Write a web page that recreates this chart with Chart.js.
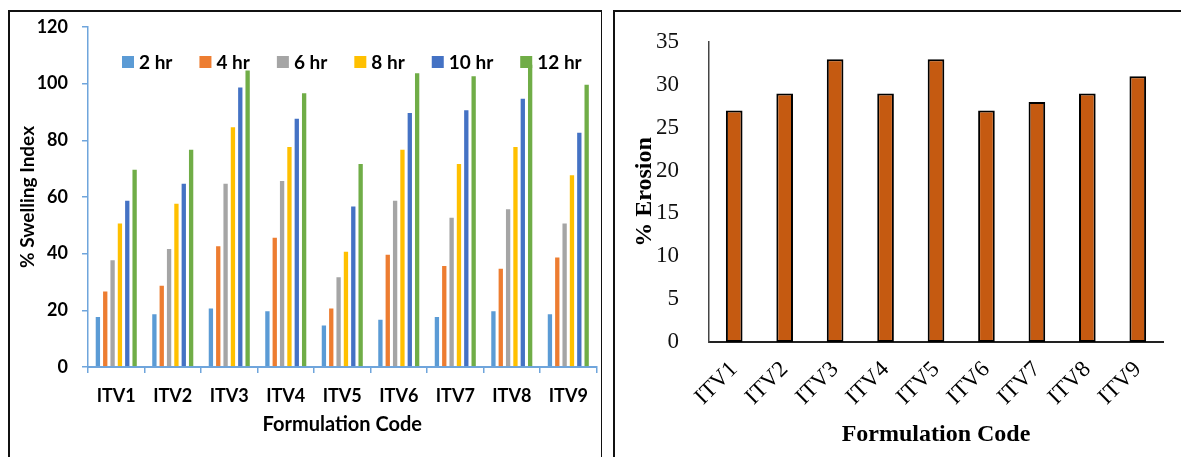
<!DOCTYPE html>
<html>
<head>
<meta charset="utf-8">
<title>Swelling index and erosion</title>
<script src="https://cdn.jsdelivr.net/npm/chart.js@4.4.1/dist/chart.umd.min.js"></script>
<style>
  html, body { margin: 0; padding: 0; background: #fff; }
  body { width: 1181px; height: 457px; position: relative; overflow: hidden; }
  .frame { position: absolute; border: 2px solid #111; box-sizing: border-box; }
  #frameA { left: 8px; top: 10px; width: 594px; height: 470px; border-right-width: 1.5px; }
  #frameB { left: 613px; top: 10px; width: 600px; height: 470px; }
  .wrap { position: absolute; top: 0; height: 457px; }
  #wrapA { left: 0; width: 600px; }
  #wrapB { left: 600px; width: 581px; }
</style>
</head>
<body>
<div class="frame" id="frameA"></div>
<div class="frame" id="frameB"></div>
<div class="wrap" id="wrapA"><canvas id="swellChart"></canvas></div>
<div class="wrap" id="wrapB"><canvas id="erosionChart"></canvas></div>

<script>
// formulations
const categories = ["ITV1", "ITV2", "ITV3", "ITV4", "ITV5", "ITV6", "ITV7", "ITV8", "ITV9"];

// swelling index (%) per sampling time
const timeLabels = ["2 hr", "4 hr", "6 hr", "8 hr", "10 hr", "12 hr"];
const swell2h  = [18, 19, 21, 20, 15, 17, 18, 20, 19];
const swell4h  = [27, 29, 43, 46, 21, 40, 36, 35, 39];
const swell6h  = [38, 42, 65, 66, 32, 59, 53, 56, 51];
const swell8h  = [51, 58, 85, 78, 41, 77, 72, 78, 68];
const swell10h = [59, 65, 99, 88, 57, 90, 91, 95, 83];
const swell12h = [70, 77, 105, 97, 72, 104, 103, 107, 100];

// erosion (%)
const erosion = [27, 29, 33, 29, 33, 27, 28, 29, 31];

// axis ticks
const swellTicks = [0, 20, 40, 60, 80, 100, 120];
const erosionTicks = [0, 5, 10, 15, 20, 25, 30, 35];

const seriesColors = ["#5B9BD5", "#ED7D31", "#A5A5A5", "#FFC000", "#4472C4", "#70AD47"];
const axisBlue = "#6FA5DC";
const sans = "Lato";
const serif = "'Liberation Serif', 'Times New Roman', serif";

// legend drawn inside the plot, on top of the bars
const legendInPlot = {
  id: "legendInPlot",
  afterDatasetsDraw(chart) {
    const ctx = chart.ctx;
    const area = chart.chartArea;
    let x = area.left + 34;
    const y = area.top + 35;
    ctx.save();
    ctx.font = "bold 19px " + sans;
    ctx.textBaseline = "middle";
    chart.data.datasets.forEach(ds => {
      ctx.fillStyle = ds.backgroundColor;
      ctx.fillRect(x, y - 6, 12, 12);
      ctx.fillStyle = "#000";
      ctx.fillText(ds.label, x + 17, y + 1);
      x += 17 + ctx.measureText(ds.label).width + 27;
    });
    ctx.restore();
  }
};

function drawCharts() {
  const swellSeries = [swell2h, swell4h, swell6h, swell8h, swell10h, swell12h];

  new Chart(document.getElementById("swellChart"), {
    type: "bar",
    data: {
      labels: categories,
      datasets: swellSeries.map((vals, i) => ({
        label: timeLabels[i],
        data: vals,
        backgroundColor: seriesColors[i],
        borderColor: "rgba(255,255,255,0.45)",
        borderWidth: 1,
        borderSkipped: "bottom",
        categoryPercentage: 0.78,
        barPercentage: 0.86
      }))
    },
    plugins: [legendInPlot],
    options: {
      responsive: true,
      maintainAspectRatio: false,
      animation: false,
      layout: { padding: { left: 0, right: 3, top: 27, bottom: 0 } },
      plugins: { legend: { display: false }, tooltip: { enabled: false } },
      scales: {
        x: {
          afterFit(s) { s.height = 90; },
          grid: { display: true, drawOnChartArea: false, tickLength: 6, color: axisBlue, lineWidth: 1.5 },
          border: { color: axisBlue, width: 2 },
          ticks: { color: "#000", padding: 12, font: { family: sans, size: 18, weight: "bold" } },
          title: {
            display: true, text: "Formulation Code", color: "#000",
            font: { family: sans, size: 20, weight: "bold" }, padding: { bottom: 20 }
          }
        },
        y: {
          min: swellTicks[0],
          max: swellTicks[swellTicks.length - 1],
          afterBuildTicks(s) { s.ticks = swellTicks.map(v => ({ value: v })); },
          afterFit(s) { s.width = 88; },
          grid: { display: true, drawOnChartArea: false, tickLength: 6, color: axisBlue, lineWidth: 1.5 },
          border: { color: axisBlue, width: 1.5 },
          ticks: { color: "#000", padding: 14, font: { family: sans, size: 18, weight: "bold" } },
          title: {
            display: true, text: "% Swelling Index", color: "#000",
            font: { family: sans, size: 19, weight: "bold" }, padding: { top: 16 }
          }
        }
      }
    }
  });

  new Chart(document.getElementById("erosionChart"), {
    type: "bar",
    data: {
      labels: categories,
      datasets: [{
        label: "% Erosion",
        data: erosion,
        backgroundColor: "#C55A11",
        borderColor: "#000",
        borderWidth: 2,
        borderSkipped: false,
        categoryPercentage: 1,
        barPercentage: 0.33
      }]
    },
    options: {
      responsive: true,
      maintainAspectRatio: false,
      animation: false,
      layout: { padding: { left: 0, right: 18, top: 42, bottom: 0 } },
      plugins: { legend: { display: false }, tooltip: { enabled: false } },
      scales: {
        x: {
          afterFit(s) { s.height = 115; },
          grid: { display: false },
          border: { color: "#222", width: 2 },
          ticks: {
            color: "#000", padding: 6, autoSkip: false, minRotation: 45, maxRotation: 45,
            font: { family: serif, size: 23 }
          },
          title: {
            display: true, text: "Formulation Code", color: "#000",
            font: { family: serif, size: 24, weight: "bold" }, padding: { bottom: 8 }
          }
        },
        y: {
          min: erosionTicks[0],
          max: erosionTicks[erosionTicks.length - 1],
          afterBuildTicks(s) { s.ticks = erosionTicks.map(v => ({ value: v })); },
          afterFit(s) { s.width = 109; },
          grid: { display: false },
          border: { color: "#444", width: 1.5 },
          ticks: { color: "#111", padding: 22, font: { family: serif, size: 23 } },
          title: {
            display: true, text: "% Erosion", color: "#000",
            font: { family: serif, size: 24, weight: "bold" }, padding: { top: 30 }
          }
        }
      }
    }
  });
}

Promise.all([
  document.fonts.load("bold 18px Lato"),
  document.fonts.load("23px 'Liberation Serif'"),
  document.fonts.load("bold 24px 'Liberation Serif'")
]).catch(() => {}).then(drawCharts);
</script>
</body>
</html>
